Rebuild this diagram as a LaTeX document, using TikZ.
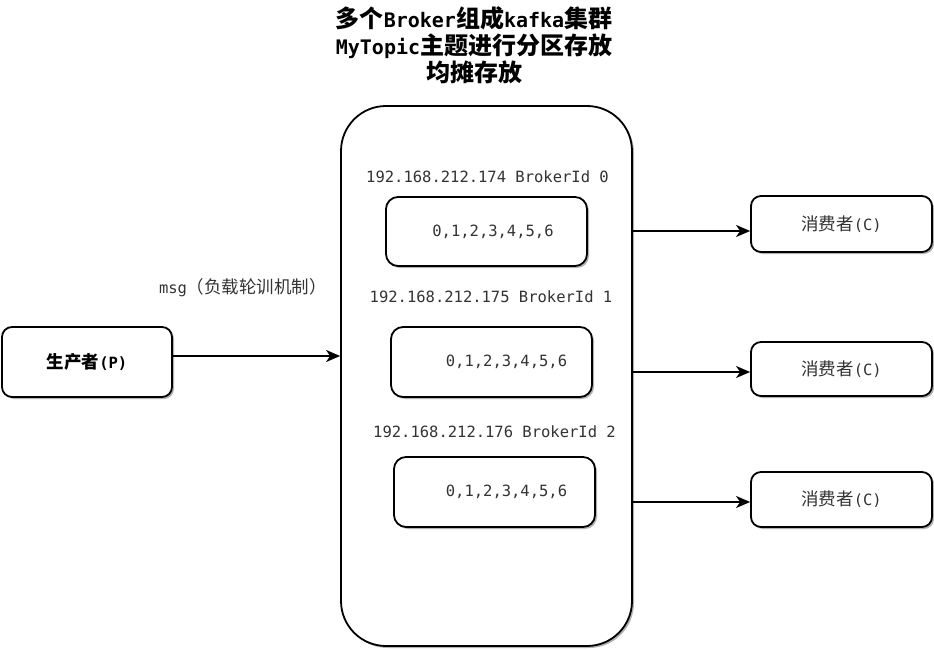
\documentclass[tikz,border=0pt]{standalone}
\usepackage{fontspec}
\setmainfont{DejaVu Sans Mono}
\newfontfamily\cjkf{Noto Sans CJK SC}
\usetikzlibrary{arrows.meta,shadows}
\newcommand\zh[1]{{\cjkf\fontsize{17.5}{20}\selectfont #1}}
\newcommand\zhT[1]{{\cjkf\fontsize{24}{27}\selectfont #1}}
\begin{document}
\begin{tikzpicture}[x=1pt,y=-1pt,
  box/.style={draw=black,line width=1.8pt,fill=white,rounded corners=#1,inner sep=0pt,
    drop shadow={shadow xshift=2pt,shadow yshift=-2pt,fill=black!30,opacity=1},
    font=\fontsize{15.5}{18}\selectfont,text=black!80},
  box/.default=12pt,
  lbl/.style={inner sep=0pt,font=\fontsize{15.5}{18}\selectfont,text=black!80},
  arr/.style={line width=1.8pt,draw=black,-{Stealth[length=14pt,width=12pt,inset=4pt]}}
]
\useasboundingbox (0,0) rectangle (934,650);
% title
\node[align=center,inner sep=0pt,font=\bfseries\fontsize{20}{27}\selectfont] (title) at (474,45)
  {\zhT{多个}Broker\zhT{组成}kafka\zhT{集群}\\MyTopic\zhT{主题进行分区存放}\\\zhT{均摊存放}};
% broker cluster
\node[box=45pt,minimum width=291pt,minimum height=540pt] (broker) at (486.5,376) {};
\node[lbl] (l0) at (487.5,177) {192.168.212.174 BrokerId 0};
\node[lbl] (l1) at (491,297) {192.168.212.175 BrokerId 1};
\node[lbl] (l2) at (494.5,432) {192.168.212.176 BrokerId 2};
\node[box=12pt,minimum width=201pt,minimum height=69pt] (p0) at (486.5,231.5) {\hspace*{13pt}0,1,2,3,4,5,6};
\node[box=12pt,minimum width=201pt,minimum height=70pt] (p1) at (491.5,362) {\hspace*{30pt}0,1,2,3,4,5,6};
\node[box=12pt,minimum width=201pt,minimum height=70pt] (p2) at (494.5,492) {\hspace*{24pt}0,1,2,3,4,5,6};
% producer
\node[box=10pt,minimum width=170pt,minimum height=70pt,text=black] (prod) at (87,362) {\bfseries\zh{生产者}(P)};
\node[lbl] (msg) at (243,288) {msg\zh{（负载轮训机制）}};
% consumers
\node[box=10pt,minimum width=181pt,minimum height=56pt] (c0) at (841.5,224) {\zh{消费者}(C)};
\node[box=10pt,minimum width=181pt,minimum height=54pt] (c1) at (841.5,369) {\zh{消费者}(C)};
\node[box=10pt,minimum width=181pt,minimum height=55pt] (c2) at (841.5,499.5) {\zh{消费者}(C)};
% connectors
\coordinate (yp) at (0,356);
\coordinate (y0) at (0,231);
\coordinate (y1) at (0,372);
\coordinate (y2) at (0,502);
\draw[arr] (prod.east |- yp) -- (broker.west |- yp);
\draw[arr] (broker.east |- y0) -- (c0.west |- y0);
\draw[arr] (broker.east |- y1) -- (c1.west |- y1);
\draw[arr] (broker.east |- y2) -- (c2.west |- y2);
\end{tikzpicture}
\end{document}
